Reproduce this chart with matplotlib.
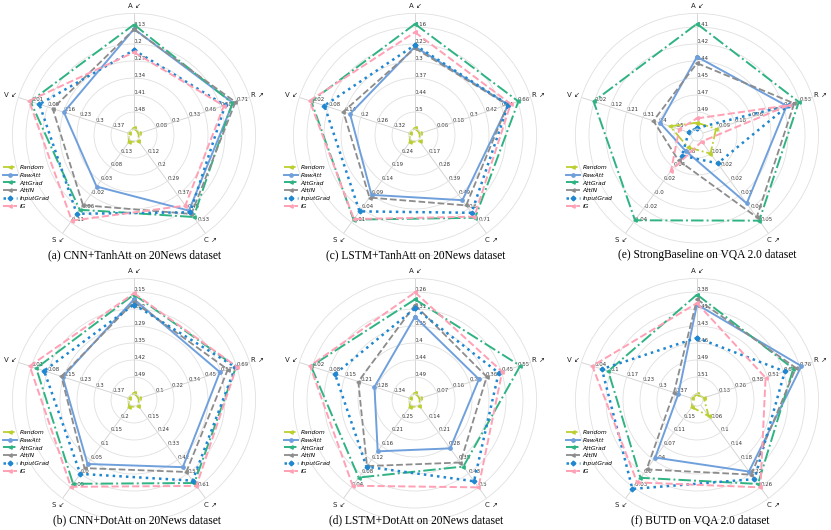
import numpy as np
import matplotlib
matplotlib.use("Agg")
import matplotlib.pyplot as plt

# ---------------- data ----------------
axis_names = ["A ↙", "R ↗", "C ↗", "S ↙", "V ↙"]
methods = ["Random", "RawAtt", "AttGrad", "AttIN", "InputGrad", "IG"]

titles = {
    "a": "(a) CNN+TanhAtt on 20News dataset",
    "b": "(b) CNN+DotAtt on 20News dataset",
    "c": "(c) LSTM+TanhAtt on 20News dataset",
    "d": "(d) LSTM+DotAtt on 20News dataset",
    "e": "(e) StrongBaseline on VQA 2.0 dataset",
    "f": "(f) BUTD on VQA 2.0 dataset",
}

# tick labels per axis (A, R, C, S, V), from inner to outer ring
ticks_a = [["0.48", "0.41", "0.34", "0.27", "0.2", "0.13"],
           ["0.08", "0.2", "0.33", "0.46", "0.58", "0.71"],
           ["0.12", "0.2", "0.29", "0.37", "0.45", "0.53"],
           ["0.13", "0.08", "0.03", "-0.02", "-0.06", "-0.11"],
           ["0.37", "0.3", "0.23", "0.16", "0.09", "0.01"]]
ticks_b = [["0.49", "0.42", "0.35", "0.29", "0.22", "0.15"],
           ["0.1", "0.22", "0.34", "0.45", "0.57", "0.69"],
           ["0.15", "0.24", "0.33", "0.42", "0.51", "0.61"],
           ["0.2", "0.15", "0.1", "0.05", "0.0", "-0.05"],
           ["0.37", "0.3", "0.23", "0.15", "0.08", "0.01"]]
ticks_c = [["0.5", "0.44", "0.37", "0.3", "0.23", "0.16"],
           ["0.06", "0.18", "0.3", "0.42", "0.54", "0.66"],
           ["0.17", "0.28", "0.39", "0.49", "0.6", "0.71"],
           ["0.24", "0.19", "0.14", "0.09", "0.04", "-0.01"],
           ["0.32", "0.26", "0.2", "0.14", "0.08", "0.02"]]
ticks_d = [["0.49", "0.44", "0.4", "0.35", "0.31", "0.26"],
           ["0.07", "0.16", "0.26", "0.36", "0.45", "0.55"],
           ["0.14", "0.21", "0.28", "0.35", "0.43", "0.5"],
           ["0.25", "0.21", "0.16", "0.12", "0.08", "0.04"],
           ["0.34", "0.28", "0.21", "0.15", "0.08", "0.02"]]
ticks_e = [["0.49", "0.47", "0.45", "0.44", "0.42", "0.41"],
           ["0.09", "0.18", "0.26", "0.35", "0.44", "0.53"],
           ["0.01", "0.02", "0.02", "0.03", "0.04", "0.05"],
           ["0.06", "0.04", "0.02", "-0.0", "-0.02", "-0.04"],
           ["0.5", "0.4", "0.31", "0.21", "0.12", "0.02"]]
ticks_f = [["0.51", "0.49", "0.46", "0.43", "0.41", "0.38"],
           ["0.13", "0.26", "0.38", "0.51", "0.64", "0.76"],
           ["0.06", "0.1", "0.14", "0.18", "0.22", "0.26"],
           ["0.15", "0.11", "0.07", "0.04", "0.0", "-0.03"],
           ["0.37", "0.3", "0.23", "0.17", "0.1", "0.04"]]

# values per method (rows: Random, RawAtt, AttGrad, AttIN, InputGrad, IG), columns A, R, C, S, V
values_a = [[0.544, -0.054, 0.046, 0.170, 0.443],
            [0.138, 0.680, 0.460, 0.015, 0.155],
            [0.120, 0.676, 0.498, -0.066, 0.006],
            [0.140, 0.700, 0.480, -0.050, 0.105],
            [0.225, 0.620, 0.470, -0.080, 0.046],
            [0.234, 0.610, 0.430, -0.104, 0.000]]
values_b = [[0.553, -0.025, 0.067, 0.242, 0.443],
            [0.179, 0.567, 0.475, 0.035, 0.150],
            [0.160, 0.685, 0.581, -0.037, 0.032],
            [0.190, 0.625, 0.507, 0.020, 0.144],
            [0.200, 0.680, 0.565, -0.001, 0.067],
            [0.155, 0.690, 0.600, -0.048, 0.003]]
values_c = [[0.563, -0.067, 0.073, 0.282, 0.381],
            [0.239, 0.590, 0.536, 0.090, 0.160],
            [0.148, 0.665, 0.674, 0.000, 0.016],
            [0.245, 0.585, 0.577, 0.080, 0.135],
            [0.232, 0.590, 0.635, 0.030, 0.065],
            [0.181, 0.608, 0.665, 0.002, 0.010]]
values_d = [[0.532, -0.032, 0.075, 0.285, 0.405],
            [0.327, 0.320, 0.296, 0.150, 0.266],
            [0.280, 0.565, 0.391, 0.070, 0.015],
            [0.295, 0.366, 0.370, 0.105, 0.202],
            [0.304, 0.437, 0.468, 0.103, 0.110],
            [0.261, 0.458, 0.500, 0.045, 0.011]]
values_e = [[0.500, 0.075, 0.010, 0.069, 0.470],
            [0.438, 0.459, 0.039, 0.064, 0.410],
            [0.407, 0.525, 0.049, -0.037, 0.016],
            [0.444, 0.500, 0.047, 0.050, 0.371],
            [0.505, 0.470, 0.0157, 0.057, 0.580],
            [0.496, 0.470, 0.003, 0.035, 0.524]]
values_f = [[0.536, 0.012, 0.053, 0.180, 0.440],
            [0.399, 0.773, 0.214, 0.048, 0.383],
            [0.384, 0.710, 0.250, -0.005, 0.097],
            [0.391, 0.730, 0.223, 0.017, 0.365],
            [0.450, 0.644, 0.236, -0.034, 0.071],
            [0.397, 0.494, 0.260, -0.017, 0.032]]

# ---------------- style ----------------
colors = ["#bccf30", "#6fa0dc", "#2fb383", "#8c8c8c", "#1f86d0", "#ffa0b4"]
linestyles = ["-.", "-", "-.", "--", ":", "--"]
markers = ["<", "o", "<", "<", "D", "<"]
linewidths = [1.3, 1.4, 1.4, 1.3, 1.8, 1.4]

W, H = 831, 530
R_PX = 121.6          # outer frame radius in pixels
RMAX = 6.8
RORIG = -0.35
GRID_C = "#e0e0e0"

panels = [
    ("a", ticks_a, values_a, 134, 135, 135),
    ("c", ticks_c, values_c, 415, 135, 416),
    ("e", ticks_e, values_e, 697, 135, 707),
    ("b", ticks_b, values_b, 134, 400, 137),
    ("d", ticks_d, values_d, 415, 400, 416),
    ("f", ticks_f, values_f, 697, 400, 700),
]

angles = np.deg2rad(np.arange(5) * 72.0)

fig = plt.figure(figsize=(W / 100, H / 100), dpi=100)

for key, ticks, values, cx, cy, tx in panels:
    ax = fig.add_axes([(cx - R_PX) / W, (H - cy - R_PX) / H, 2 * R_PX / W, 2 * R_PX / H],
                      polar=True)
    ax.set_theta_offset(np.pi / 2)
    ax.set_theta_direction(-1)
    ax.set_ylim(0, RMAX)
    ax.set_rorigin(RORIG)
    ax.set_xticks(angles)
    ax.set_xticklabels([])
    ax.set_yticks(np.arange(7))
    ax.set_yticklabels([])
    ax.tick_params(length=0)
    ax.xaxis.grid(True, color="#d0d0d0", linewidth=0.6)
    ax.yaxis.grid(True, color=GRID_C, linewidth=0.6)
    for sp in ("polar", "inner"):
        if sp in ax.spines:
            ax.spines[sp].set_color(GRID_C)
            ax.spines[sp].set_linewidth(0.6)
    ax.set_facecolor("white")

    # per-axis scales
    lo = np.array([float(t[0]) for t in ticks])
    hi = np.array([float(t[-1]) for t in ticks])

    for i in range(5):
        for k, lab in enumerate(ticks[i]):
            ax.text(angles[i], k + 1, lab, fontsize=3.9, ha="left", va="bottom",
                    color="#333333", zorder=1.5)
        ax.text(angles[i], 7.26, axis_names[i], fontsize=5.0, ha="center", va="center",
                color="#222222", clip_on=False)

    for m in range(6):
        v = np.array(values[m])
        lev = 1 + (v - lo) / (hi - lo) * 5
        th = np.append(angles, angles[0])
        rr = np.append(lev, lev[0])
        ax.plot(th, rr, color=colors[m], linestyle=linestyles[m], marker=markers[m],
                markersize=2.4, linewidth=linewidths[m], label=methods[m], zorder=2 + m * 0.01,
                clip_on=False)

    ax.legend(loc="upper left", bbox_to_anchor=((cx - 131) / W, (H - cy - 30) / H),
              bbox_transform=fig.transFigure, frameon=False,
              prop={"size": 4.3, "style": "italic"}, handlelength=2.3,
              labelspacing=0.42, handletextpad=0.5, borderpad=0, borderaxespad=0)

    fig.text(tx / W, 1 - (cy + 120) / H, titles[key], fontsize=8.3,
             family="Liberation Serif", ha="center", va="center")

fig.savefig("out.png", dpi=100)
